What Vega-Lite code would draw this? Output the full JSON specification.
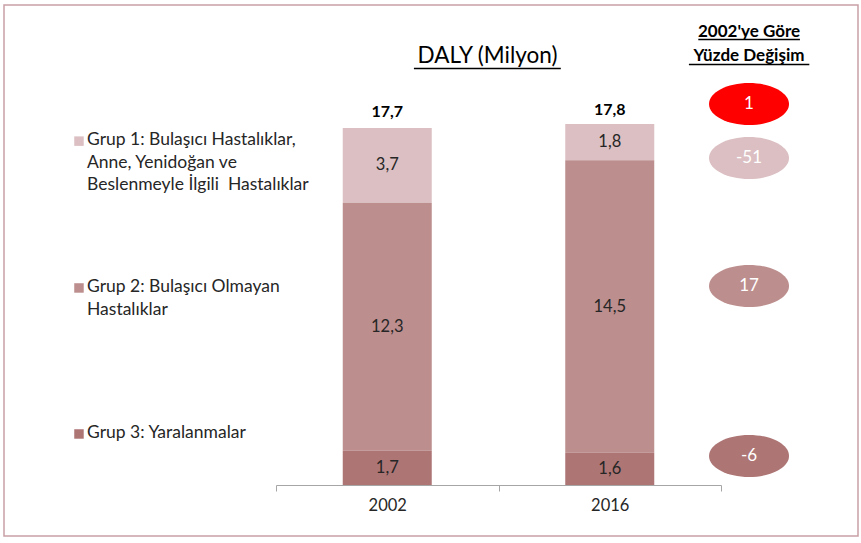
{
  "$schema": "https://vega.github.io/schema/vega-lite/v6.json",
  "width": 854,
  "height": 531,
  "autosize": "none",
  "padding": {"left": 4, "top": 5, "right": 3, "bottom": 7},
  "background": "white",
  "config": {
    "view": {"stroke": "#c9a0a5", "strokeWidth": 1.5},
    "font": "Lato",
    "locale": {"number": {"decimal": ",", "thousands": ".", "grouping": [3], "currency": ["", ""], "minus": "-"}}
  },
  "datasets": {
    "segments": [
      {"year": "2002", "group": "Grup 1", "ord": 3, "value": 3.7},
      {"year": "2002", "group": "Grup 2", "ord": 2, "value": 12.3},
      {"year": "2002", "group": "Grup 3", "ord": 1, "value": 1.7},
      {"year": "2016", "group": "Grup 1", "ord": 3, "value": 1.8},
      {"year": "2016", "group": "Grup 2", "ord": 2, "value": 14.5},
      {"year": "2016", "group": "Grup 3", "ord": 1, "value": 1.6}
    ],
    "totals": [
      {"year": "2002", "total": 17.7},
      {"year": "2016", "total": 17.8}
    ],
    "legendItems": [
      {"group": "Grup 1", "label": "Grup 1: Bulaşıcı Hastalıklar,\nAnne, Yenidoğan ve\nBeslenmeyle İlgili\u00a0 Hastalıklar", "sx": 8.78, "sy": 17.05, "tx": 9.72, "ty": 17.55},
      {"group": "Grup 2", "label": "Grup 2: Bulaşıcı Olmayan\nHastalıklar", "sx": 8.78, "sy": 9.77, "tx": 9.72, "ty": 10.26},
      {"group": "Grup 3", "label": "Grup 3: Yaralanmalar", "sx": 8.78, "sy": 2.53, "tx": 9.72, "ty": 3.02}
    ],
    "changes": [
      {"group": "Toplam", "change": 1, "px": 87.24, "py": 18.89},
      {"group": "Grup 1", "change": -51, "px": 87.24, "py": 16.21},
      {"group": "Grup 2", "change": 17, "px": 87.24, "py": 9.87},
      {"group": "Grup 3", "change": -6, "px": 87.24, "py": 1.44}
    ],
    "mainTitle": [
      {"text": "DALY (Milyon)", "px": 56.62, "py": 20.92}
    ],
    "header": [
      {"text": "2002'ye Göre", "px": 87.24, "py": 22.21},
      {"text": "Yüzde Değişim", "px": 87.24, "py": 21.02}
    ],
    "underlines": [
      {"px": 48.0, "px2": 65.2, "py": 20.65},
      {"px": 81.3, "px2": 93.2, "py": 22.09},
      {"px": 80.2, "px2": 94.3, "py": 20.85}
    ]
  },
  "layer": [
    {
      "layer": [
        {
          "data": {"name": "segments"},
          "mark": {"type": "bar", "width": {"band": 0.4}},
          "encoding": {
            "x": {
              "field": "year", "type": "nominal",
              "scale": {"range": [272, 717], "paddingInner": 0, "paddingOuter": 0},
              "axis": {
                "title": null, "labelAngle": 0, "tickBand": "extent",
                "domainColor": "#a6a6a6", "tickColor": "#a6a6a6", "tickSize": 6,
                "labelFontSize": 16.5, "labelColor": "#262626", "labelPadding": 6,
                "offset": -51, "labelFont": "Lato"
              }
            },
            "y": {
              "field": "value", "type": "quantitative", "stack": "zero",
              "scale": {"domain": [0, 23.8], "range": [480, 0], "nice": false, "zero": false},
              "axis": null
            },
            "color": {
              "field": "group", "type": "nominal",
              "scale": {"domain": ["Grup 1", "Grup 2", "Grup 3"], "range": ["#dbbfc2", "#bd8e8e", "#ae7575"]},
              "legend": null
            },
            "order": {"field": "ord", "type": "quantitative"}
          }
        },
        {
          "data": {"name": "segments"},
          "mark": {"type": "text", "fontSize": 16.5, "color": "#262626", "baseline": "middle"},
          "encoding": {
            "x": {"field": "year", "type": "nominal"},
            "y": {"field": "value", "type": "quantitative", "stack": "zero", "bandPosition": 0.5},
            "detail": {"field": "group"},
            "order": {"field": "ord", "type": "quantitative"},
            "text": {"field": "value", "type": "quantitative", "format": ".1f"}
          }
        },
        {
          "data": {"name": "totals"},
          "mark": {"type": "text", "fontSize": 16, "fontWeight": "bold", "color": "#000000", "baseline": "middle", "dy": -16},
          "encoding": {
            "x": {"field": "year", "type": "nominal"},
            "y": {"field": "total", "type": "quantitative"},
            "text": {"field": "total", "type": "quantitative", "format": ".1f"}
          }
        }
      ]
    },
    {
      "layer": [
        {
          "data": {"name": "legendItems"},
          "mark": {"type": "point", "shape": "square", "filled": true, "size": 90, "opacity": 1},
          "encoding": {
            "x": {"field": "sx", "type": "quantitative", "scale": {"domain": [0, 100], "nice": false, "zero": false}, "axis": null},
            "y": {"field": "sy", "type": "quantitative"},
            "color": {"field": "group", "type": "nominal", "legend": null}
          }
        },
        {
          "data": {"name": "legendItems"},
          "mark": {"type": "text", "align": "left", "baseline": "top", "lineBreak": "\n", "lineHeight": 22.5, "fontSize": 17.5, "color": "#262626"},
          "encoding": {
            "x": {"field": "tx", "type": "quantitative"},
            "y": {"field": "ty", "type": "quantitative"},
            "text": {"field": "label"}
          }
        },
        {
          "data": {"name": "changes"},
          "mark": {"type": "point", "shape": "M -1 0 A 1 0.525 0 1 0 1 0 A 1 0.525 0 1 0 -1 0 Z", "filled": true, "size": 6400, "opacity": 1},
          "encoding": {
            "x": {"field": "px", "type": "quantitative"},
            "y": {"field": "py", "type": "quantitative"},
            "fill": {
              "field": "group", "type": "nominal",
              "scale": {"domain": ["Toplam", "Grup 1", "Grup 2", "Grup 3"], "range": ["#ff0000", "#dbbfc2", "#bd8e8e", "#ae7575"]},
              "legend": null
            }
          }
        },
        {
          "data": {"name": "changes"},
          "mark": {"type": "text", "fontSize": 17, "color": "white", "baseline": "middle"},
          "encoding": {
            "x": {"field": "px", "type": "quantitative"},
            "y": {"field": "py", "type": "quantitative"},
            "text": {"field": "change", "type": "quantitative"}
          }
        },
        {
          "data": {"name": "mainTitle"},
          "mark": {"type": "text", "fontSize": 22.5, "color": "#000000", "baseline": "alphabetic"},
          "encoding": {
            "x": {"field": "px", "type": "quantitative"},
            "y": {"field": "py", "type": "quantitative"},
            "text": {"field": "text"}
          }
        },
        {
          "data": {"name": "header"},
          "mark": {"type": "text", "fontSize": 17, "fontWeight": "bold", "color": "#000000", "baseline": "alphabetic"},
          "encoding": {
            "x": {"field": "px", "type": "quantitative"},
            "y": {"field": "py", "type": "quantitative"},
            "text": {"field": "text"}
          }
        },
        {
          "data": {"name": "underlines"},
          "mark": {"type": "rule", "color": "#000000", "strokeWidth": 1.5},
          "encoding": {
            "x": {"field": "px", "type": "quantitative"},
            "x2": {"field": "px2"},
            "y": {"field": "py", "type": "quantitative"}
          }
        }
      ]
    }
  ],
  "resolve": {"scale": {"x": "independent"}, "axis": {"x": "independent"}}
}
